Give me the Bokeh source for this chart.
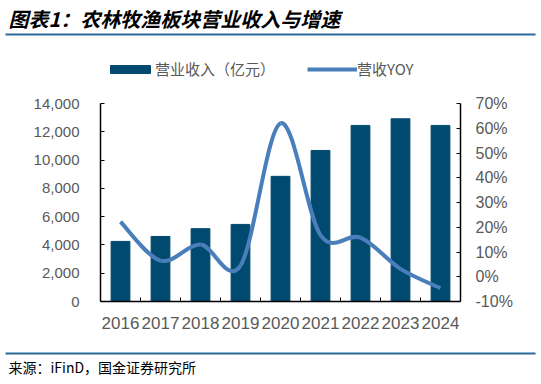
from bokeh.plotting import figure
from bokeh.models import (Range1d, LinearAxis, FixedTicker, NumeralTickFormatter,
                          PrintfTickFormatter, Legend, LegendItem, Label, BoxAnnotation)
from bokeh.embed import file_html
from bokeh.resources import INLINE

# ---- data ----
years = [2016, 2017, 2018, 2019, 2020, 2021, 2022, 2023, 2024]
revenue = [4250, 4600, 5150, 5450, 8850, 10680, 12450, 12920, 12450]   # 亿元
yoy = [22.2, 6.5, 13.0, 4.5, 62.0, 16.8, 15.8, 3.2, -4.6]              # %
left_ticks = [0, 2000, 4000, 6000, 8000, 10000, 12000, 14000]
right_ticks = [-10, 0, 10, 20, 30, 40, 50, 60, 70]
title_text = "图表1：农林牧渔板块营业收入与增速"
source_text = "来源：iFinD，国金证券研究所"
bar_label = "营业收入（亿元）"
line_label = "营收YOY"

BAR = "#004a70"
LINE = "#4a7ebb"
GRAY = "#595959"
RULE = "#2b6a99"
CJK = "Noto Sans CJK SC"
LAT = "Liberation Sans"

# ---- layout: the frame is the whole canvas, axes sit at fixed locations ----
W, H = 541, 384
PX_L, PX_R, PX_T, PX_B = 100, 460, 103, 301      # pixel box of the axes
x_lo, x_hi = years[0] - 0.5, years[-1] + 0.5
xs = (x_hi - x_lo) / (PX_R - PX_L)
ys = (left_ticks[-1] - left_ticks[0]) / (PX_B - PX_T)
rs = (right_ticks[-1] - right_ticks[0]) / (PX_B - PX_T)

p = figure(width=W, height=H,
           x_range=Range1d(x_lo - PX_L * xs, x_hi + (W - PX_R) * xs),
           y_range=Range1d(left_ticks[0] - (H - PX_B) * ys, left_ticks[-1] + PX_T * ys),
           output_backend="svg", toolbar_location=None, min_border=0)
p.extra_y_ranges = {"pct": Range1d(right_ticks[0] - (H - PX_B) * rs,
                                   right_ticks[-1] + PX_T * rs)}
p.xgrid.visible = False
p.ygrid.visible = False
p.outline_line_color = None

# bars
r_bar = p.vbar(x=years, top=revenue, width=0.47, fill_color=BAR, line_color=BAR)

# smoothed YoY line (Catmull-Rom style bezier through the data points)
n = len(years)
x0, y0, x1, y1, cx0, cy0, cx1, cy1 = [], [], [], [], [], [], [], []
for i in range(n - 1):
    ip = max(i - 1, 0)
    inn = min(i + 2, n - 1)
    x0.append(years[i]); y0.append(yoy[i])
    x1.append(years[i + 1]); y1.append(yoy[i + 1])
    cx0.append(years[i] + (years[i + 1] - years[ip]) / 6)
    cy0.append(yoy[i] + (yoy[i + 1] - yoy[ip]) / 6)
    cx1.append(years[i + 1] - (years[inn] - years[i]) / 6)
    cy1.append(yoy[i + 1] - (yoy[inn] - yoy[i]) / 6)
r_line = p.bezier(x0=x0, y0=y0, x1=x1, y1=y1, cx0=cx0, cy0=cy0, cx1=cx1, cy1=cy1,
                  line_color=LINE, line_width=4, y_range_name="pct")

# axes
xa = p.xaxis[0]
xa.fixed_location = 0
xa.bounds = (x_lo, x_hi)
xa.ticker = FixedTicker(ticks=years, minor_ticks=[y + 0.5 for y in years[:-1]])
xa.major_tick_line_color = None
xa.minor_tick_in = 4
xa.minor_tick_out = 0
xa.minor_tick_line_color = "black"
xa.axis_line_color = "black"
xa.axis_line_width = 1.5
xa.major_label_text_font = LAT
xa.major_label_text_font_size = "17px"
xa.major_label_text_color = GRAY
xa.major_label_standoff = 9

ya = p.yaxis[0]
ya.fixed_location = x_lo
ya.ticker = FixedTicker(ticks=left_ticks)
ya.bounds = (left_ticks[0], left_ticks[-1])
ya.formatter = NumeralTickFormatter(format="0,0")
ya.major_tick_in = 4
ya.major_tick_out = 0
ya.minor_tick_line_color = None
ya.axis_line_color = "black"
ya.axis_line_width = 1.5
ya.major_label_text_font = LAT
ya.major_label_text_font_size = "15px"
ya.major_label_text_color = GRAY
ya.major_label_standoff = 21

ra = LinearAxis(y_range_name="pct", ticker=FixedTicker(ticks=right_ticks),
                formatter=PrintfTickFormatter(format="%d%%"),
                bounds=(right_ticks[0], right_ticks[-1]), fixed_location=x_hi)
ra.major_tick_in = 4
ra.major_tick_out = 0
ra.minor_tick_line_color = None
ra.axis_line_color = "black"
ra.axis_line_width = 1.5
ra.major_label_text_font = LAT
ra.major_label_text_font_size = "16px"
ra.major_label_text_color = GRAY
ra.major_label_standoff = 15
p.add_layout(ra, "right")

# legend
legend = Legend(items=[LegendItem(label=bar_label, renderers=[r_bar]),
                       LegendItem(label=line_label, renderers=[r_line])],
                location=(105, H - 79), orientation="horizontal",
                glyph_width=50, glyph_height=10, label_standoff=0, spacing=32,
                padding=0, margin=0, border_line_color=None,
                background_fill_alpha=0,
                label_text_font=CJK, label_text_font_size="15px",
                label_text_color=GRAY)
p.add_layout(legend)

# title, rules and source line
p.add_layout(Label(x=8, y=H - 3, x_units="screen", y_units="screen", text=title_text,
                   text_font=CJK, text_font_size="20px",
                   text_font_style="bold italic", text_color="black",
                   text_baseline="top", text_align="left"))
p.add_layout(BoxAnnotation(left=5, right=535, top=H - 33, bottom=H - 35,
                           left_units="screen", right_units="screen",
                           top_units="screen", bottom_units="screen",
                           fill_color=RULE, fill_alpha=1, line_color=None))
p.add_layout(BoxAnnotation(left=5, right=535, top=H - 352, bottom=H - 354,
                           left_units="screen", right_units="screen",
                           top_units="screen", bottom_units="screen",
                           fill_color=RULE, fill_alpha=1, line_color=None))
p.add_layout(Label(x=8, y=H - 366, x_units="screen", y_units="screen", text=source_text,
                   text_font=CJK, text_font_size="14px", text_color="black",
                   text_baseline="middle", text_align="left"))

open("out.html", "w").write(file_html(p, INLINE))
